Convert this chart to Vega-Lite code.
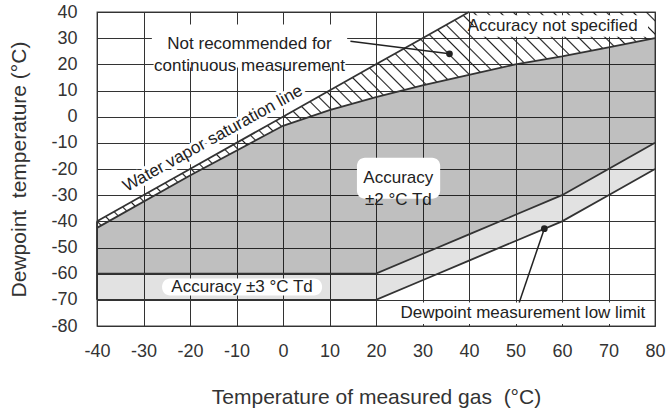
{
  "$schema": "https://vega.github.io/schema/vega-lite/v6.json",
  "autosize": {"type": "none"},
  "padding": {"left": 97, "top": 12, "right": 11, "bottom": 83},
  "width": 558,
  "height": 314,
  "config": {
    "font": "Liberation Sans",
    "view": {"stroke": "#444", "strokeWidth": 1.3},
    "axis": {"labelFlush": false, "labelOverlap": false}
  },
  "datasets": {
    "regions": [
      {"x": -40, "hatchTop": -40, "grayTop": -42.5, "grayBot": -60, "lightBot": -70},
      {"x": -20, "hatchTop": -20, "grayTop": -22.5, "grayBot": -60, "lightBot": -70},
      {"x": 0, "hatchTop": 0, "grayTop": -3.5, "grayBot": -60, "lightBot": -70},
      {"x": 10, "hatchTop": 10, "grayTop": 2.5, "grayBot": -60, "lightBot": -70},
      {"x": 20, "hatchTop": 20, "grayTop": 7.5, "grayBot": -60, "lightBot": -70},
      {"x": 30, "hatchTop": 30, "grayTop": 12, "grayBot": -52.5, "lightBot": -62.5},
      {"x": 40, "hatchTop": 40, "grayTop": 16, "grayBot": -45, "lightBot": -55},
      {"x": 50, "hatchTop": 40, "grayTop": 20, "grayBot": -37.5, "lightBot": -47.5},
      {"x": 60, "hatchTop": 40, "grayTop": 23, "grayBot": -30, "lightBot": -40},
      {"x": 70, "hatchTop": 40, "grayTop": 26.5, "grayBot": -20, "lightBot": -30},
      {"x": 80, "hatchTop": 40, "grayTop": 30, "grayBot": -10, "lightBot": -20}
    ],
    "edges": [{"x": -40, "y": -70, "y2": -40}],
    "roundBoxes": [
      {"x": -28.2, "x2": 13.8, "y": 35.2, "y2": 18.8},
      {"x": 15.9, "x2": 33.8, "y": -15.7, "y2": -31.4},
      {"x": -26, "x2": 8.4, "y": -61.8, "y2": -68.3}
    ],
    "squareBoxes": [
      {"x": 41, "x2": 78.5, "y": 38.8, "y2": 30.5},
      {"x": 23, "x2": 79.6, "y": -71, "y2": -79.2}
    ],
    "leaders": [
      {"x": 14.5, "y": 28.8, "x2": 35.8, "y2": 24.0},
      {"x": 50.8, "y": -71, "x2": 56.2, "y2": -42.8}
    ],
    "labels": [
      {"label": "Not recommended for\ncontinuous measurement", "x": -7.2, "y": 27.8},
      {"label": "Accuracy not specified", "x": 58, "y": 34.6},
      {"label": "Accuracy\n±2 °C Td", "x": 24.8, "y": -23.6},
      {"label": "Accuracy ±3 °C Td", "x": -8.8, "y": -65.1},
      {"label": "Dewpoint measurement low limit", "x": 51.6, "y": -75}
    ],
    "slanted": [
      {"label": "Water vapor saturation line", "x": -15.1, "y": -8.4}
    ]
  },
  "layer": [
    {
      "data": {"name": "regions"},
      "mark": {"type": "area", "orient": "vertical", "fill": "black", "fillOpacity": 0.25},
      "encoding": {
        "x": {
          "field": "x", "type": "quantitative",
          "scale": {"domain": [-40, 80], "nice": false, "zero": false},
          "axis": {
            "values": [-40, -30, -20, -10, 0, 10, 20, 30, 40, 50, 60, 70, 80],
            "tickCount": 20,
            "labelExpr": "'' + datum.value",
            "title": "Temperature of measured gas\u00a0\u00a0(°C)",
            "titleFontSize": 21, "titleFontWeight": "normal", "titleColor": "#333",
            "titleY": 77, "titleBaseline": "alphabetic",
            "labelFontSize": 18, "labelColor": "#333", "labelPadding": 16,
            "labelOverlap": false, "labelFlush": false,
            "ticks": false, "domain": false,
            "grid": true, "gridColor": "#333", "gridWidth": 1, "gridOpacity": 1
          }
        },
        "y": {
          "field": "grayTop", "type": "quantitative",
          "scale": {"domain": [-80, 40], "nice": false, "zero": false},
          "axis": {
            "values": [-80, -70, -60, -50, -40, -30, -20, -10, 0, 10, 20, 30, 40],
            "tickCount": 20,
            "labelExpr": "'' + datum.value",
            "title": "Dewpoint\u00a0\u00a0temperature (°C)",
            "titleFontSize": 21, "titleFontWeight": "normal", "titleColor": "#333",
            "titleX": -72, "titleBaseline": "alphabetic",
            "labelFontSize": 18, "labelColor": "#333", "labelPadding": 20,
            "labelOverlap": false, "labelFlush": false,
            "ticks": false, "domain": false,
            "grid": true, "gridColor": "#333", "gridWidth": 1, "gridOpacity": 1
          }
        },
        "y2": {"field": "grayBot"}
      }
    },
    {
      "data": {"name": "regions"},
      "mark": {"type": "area", "orient": "vertical", "fill": "black", "fillOpacity": 0.115},
      "encoding": {
        "x": {"field": "x", "type": "quantitative"},
        "y": {"field": "grayBot", "type": "quantitative"},
        "y2": {"field": "lightBot"}
      }
    },
    {
      "data": {"name": "regions"},
      "mark": {
        "type": "area", "orient": "vertical",
        "fill": {
          "gradient": "linear", "x1": 0, "y1": 1, "x2": 1.206, "y2": 0.533,
          "stops": [
            {"offset": 0.0066, "color": "rgba(30,30,30,0)"}, {"offset": 0.0086, "color": "#1e1e1e"}, {"offset": 0.0106, "color": "rgba(30,30,30,0)"},
            {"offset": 0.0238, "color": "rgba(30,30,30,0)"}, {"offset": 0.0258, "color": "#1e1e1e"}, {"offset": 0.0278, "color": "rgba(30,30,30,0)"},
            {"offset": 0.0410, "color": "rgba(30,30,30,0)"}, {"offset": 0.0430, "color": "#1e1e1e"}, {"offset": 0.0450, "color": "rgba(30,30,30,0)"},
            {"offset": 0.0582, "color": "rgba(30,30,30,0)"}, {"offset": 0.0602, "color": "#1e1e1e"}, {"offset": 0.0622, "color": "rgba(30,30,30,0)"},
            {"offset": 0.0754, "color": "rgba(30,30,30,0)"}, {"offset": 0.0774, "color": "#1e1e1e"}, {"offset": 0.0794, "color": "rgba(30,30,30,0)"},
            {"offset": 0.0926, "color": "rgba(30,30,30,0)"}, {"offset": 0.0946, "color": "#1e1e1e"}, {"offset": 0.0966, "color": "rgba(30,30,30,0)"},
            {"offset": 0.1098, "color": "rgba(30,30,30,0)"}, {"offset": 0.1118, "color": "#1e1e1e"}, {"offset": 0.1138, "color": "rgba(30,30,30,0)"},
            {"offset": 0.1270, "color": "rgba(30,30,30,0)"}, {"offset": 0.1290, "color": "#1e1e1e"}, {"offset": 0.1310, "color": "rgba(30,30,30,0)"},
            {"offset": 0.1442, "color": "rgba(30,30,30,0)"}, {"offset": 0.1462, "color": "#1e1e1e"}, {"offset": 0.1482, "color": "rgba(30,30,30,0)"},
            {"offset": 0.1614, "color": "rgba(30,30,30,0)"}, {"offset": 0.1634, "color": "#1e1e1e"}, {"offset": 0.1654, "color": "rgba(30,30,30,0)"},
            {"offset": 0.1786, "color": "rgba(30,30,30,0)"}, {"offset": 0.1806, "color": "#1e1e1e"}, {"offset": 0.1826, "color": "rgba(30,30,30,0)"},
            {"offset": 0.1958, "color": "rgba(30,30,30,0)"}, {"offset": 0.1978, "color": "#1e1e1e"}, {"offset": 0.1998, "color": "rgba(30,30,30,0)"},
            {"offset": 0.2130, "color": "rgba(30,30,30,0)"}, {"offset": 0.2150, "color": "#1e1e1e"}, {"offset": 0.2170, "color": "rgba(30,30,30,0)"},
            {"offset": 0.2302, "color": "rgba(30,30,30,0)"}, {"offset": 0.2322, "color": "#1e1e1e"}, {"offset": 0.2342, "color": "rgba(30,30,30,0)"},
            {"offset": 0.2474, "color": "rgba(30,30,30,0)"}, {"offset": 0.2494, "color": "#1e1e1e"}, {"offset": 0.2514, "color": "rgba(30,30,30,0)"},
            {"offset": 0.2646, "color": "rgba(30,30,30,0)"}, {"offset": 0.2666, "color": "#1e1e1e"}, {"offset": 0.2686, "color": "rgba(30,30,30,0)"},
            {"offset": 0.2818, "color": "rgba(30,30,30,0)"}, {"offset": 0.2838, "color": "#1e1e1e"}, {"offset": 0.2858, "color": "rgba(30,30,30,0)"},
            {"offset": 0.2990, "color": "rgba(30,30,30,0)"}, {"offset": 0.3010, "color": "#1e1e1e"}, {"offset": 0.3030, "color": "rgba(30,30,30,0)"},
            {"offset": 0.3162, "color": "rgba(30,30,30,0)"}, {"offset": 0.3182, "color": "#1e1e1e"}, {"offset": 0.3202, "color": "rgba(30,30,30,0)"},
            {"offset": 0.3334, "color": "rgba(30,30,30,0)"}, {"offset": 0.3354, "color": "#1e1e1e"}, {"offset": 0.3374, "color": "rgba(30,30,30,0)"},
            {"offset": 0.3506, "color": "rgba(30,30,30,0)"}, {"offset": 0.3526, "color": "#1e1e1e"}, {"offset": 0.3546, "color": "rgba(30,30,30,0)"},
            {"offset": 0.3678, "color": "rgba(30,30,30,0)"}, {"offset": 0.3698, "color": "#1e1e1e"}, {"offset": 0.3718, "color": "rgba(30,30,30,0)"},
            {"offset": 0.3850, "color": "rgba(30,30,30,0)"}, {"offset": 0.3870, "color": "#1e1e1e"}, {"offset": 0.3890, "color": "rgba(30,30,30,0)"},
            {"offset": 0.4022, "color": "rgba(30,30,30,0)"}, {"offset": 0.4042, "color": "#1e1e1e"}, {"offset": 0.4062, "color": "rgba(30,30,30,0)"},
            {"offset": 0.4194, "color": "rgba(30,30,30,0)"}, {"offset": 0.4214, "color": "#1e1e1e"}, {"offset": 0.4234, "color": "rgba(30,30,30,0)"},
            {"offset": 0.4366, "color": "rgba(30,30,30,0)"}, {"offset": 0.4386, "color": "#1e1e1e"}, {"offset": 0.4406, "color": "rgba(30,30,30,0)"},
            {"offset": 0.4538, "color": "rgba(30,30,30,0)"}, {"offset": 0.4558, "color": "#1e1e1e"}, {"offset": 0.4578, "color": "rgba(30,30,30,0)"},
            {"offset": 0.4710, "color": "rgba(30,30,30,0)"}, {"offset": 0.4730, "color": "#1e1e1e"}, {"offset": 0.4750, "color": "rgba(30,30,30,0)"},
            {"offset": 0.4882, "color": "rgba(30,30,30,0)"}, {"offset": 0.4902, "color": "#1e1e1e"}, {"offset": 0.4922, "color": "rgba(30,30,30,0)"},
            {"offset": 0.5054, "color": "rgba(30,30,30,0)"}, {"offset": 0.5074, "color": "#1e1e1e"}, {"offset": 0.5094, "color": "rgba(30,30,30,0)"},
            {"offset": 0.5226, "color": "rgba(30,30,30,0)"}, {"offset": 0.5246, "color": "#1e1e1e"}, {"offset": 0.5266, "color": "rgba(30,30,30,0)"},
            {"offset": 0.5398, "color": "rgba(30,30,30,0)"}, {"offset": 0.5418, "color": "#1e1e1e"}, {"offset": 0.5438, "color": "rgba(30,30,30,0)"},
            {"offset": 0.5570, "color": "rgba(30,30,30,0)"}, {"offset": 0.5590, "color": "#1e1e1e"}, {"offset": 0.5610, "color": "rgba(30,30,30,0)"},
            {"offset": 0.5742, "color": "rgba(30,30,30,0)"}, {"offset": 0.5762, "color": "#1e1e1e"}, {"offset": 0.5782, "color": "rgba(30,30,30,0)"},
            {"offset": 0.5914, "color": "rgba(30,30,30,0)"}, {"offset": 0.5934, "color": "#1e1e1e"}, {"offset": 0.5954, "color": "rgba(30,30,30,0)"},
            {"offset": 0.6086, "color": "rgba(30,30,30,0)"}, {"offset": 0.6106, "color": "#1e1e1e"}, {"offset": 0.6126, "color": "rgba(30,30,30,0)"},
            {"offset": 0.6258, "color": "rgba(30,30,30,0)"}, {"offset": 0.6278, "color": "#1e1e1e"}, {"offset": 0.6298, "color": "rgba(30,30,30,0)"},
            {"offset": 0.6430, "color": "rgba(30,30,30,0)"}, {"offset": 0.6450, "color": "#1e1e1e"}, {"offset": 0.6470, "color": "rgba(30,30,30,0)"},
            {"offset": 0.6602, "color": "rgba(30,30,30,0)"}, {"offset": 0.6622, "color": "#1e1e1e"}, {"offset": 0.6642, "color": "rgba(30,30,30,0)"},
            {"offset": 0.6774, "color": "rgba(30,30,30,0)"}, {"offset": 0.6794, "color": "#1e1e1e"}, {"offset": 0.6814, "color": "rgba(30,30,30,0)"},
            {"offset": 0.6946, "color": "rgba(30,30,30,0)"}, {"offset": 0.6966, "color": "#1e1e1e"}, {"offset": 0.6986, "color": "rgba(30,30,30,0)"},
            {"offset": 0.7118, "color": "rgba(30,30,30,0)"}, {"offset": 0.7138, "color": "#1e1e1e"}, {"offset": 0.7158, "color": "rgba(30,30,30,0)"},
            {"offset": 0.7290, "color": "rgba(30,30,30,0)"}, {"offset": 0.7310, "color": "#1e1e1e"}, {"offset": 0.7330, "color": "rgba(30,30,30,0)"},
            {"offset": 0.7462, "color": "rgba(30,30,30,0)"}, {"offset": 0.7482, "color": "#1e1e1e"}, {"offset": 0.7502, "color": "rgba(30,30,30,0)"},
            {"offset": 0.7634, "color": "rgba(30,30,30,0)"}, {"offset": 0.7654, "color": "#1e1e1e"}, {"offset": 0.7674, "color": "rgba(30,30,30,0)"},
            {"offset": 0.7806, "color": "rgba(30,30,30,0)"}, {"offset": 0.7826, "color": "#1e1e1e"}, {"offset": 0.7846, "color": "rgba(30,30,30,0)"},
            {"offset": 0.7978, "color": "rgba(30,30,30,0)"}, {"offset": 0.7998, "color": "#1e1e1e"}, {"offset": 0.8018, "color": "rgba(30,30,30,0)"},
            {"offset": 0.8150, "color": "rgba(30,30,30,0)"}, {"offset": 0.8170, "color": "#1e1e1e"}, {"offset": 0.8190, "color": "rgba(30,30,30,0)"},
            {"offset": 0.8322, "color": "rgba(30,30,30,0)"}, {"offset": 0.8342, "color": "#1e1e1e"}, {"offset": 0.8362, "color": "rgba(30,30,30,0)"},
            {"offset": 0.8494, "color": "rgba(30,30,30,0)"}, {"offset": 0.8514, "color": "#1e1e1e"}, {"offset": 0.8534, "color": "rgba(30,30,30,0)"},
            {"offset": 0.8666, "color": "rgba(30,30,30,0)"}, {"offset": 0.8686, "color": "#1e1e1e"}, {"offset": 0.8706, "color": "rgba(30,30,30,0)"},
            {"offset": 0.8838, "color": "rgba(30,30,30,0)"}, {"offset": 0.8858, "color": "#1e1e1e"}, {"offset": 0.8878, "color": "rgba(30,30,30,0)"},
            {"offset": 0.9010, "color": "rgba(30,30,30,0)"}, {"offset": 0.9030, "color": "#1e1e1e"}, {"offset": 0.9050, "color": "rgba(30,30,30,0)"},
            {"offset": 0.9182, "color": "rgba(30,30,30,0)"}, {"offset": 0.9202, "color": "#1e1e1e"}, {"offset": 0.9222, "color": "rgba(30,30,30,0)"},
            {"offset": 0.9354, "color": "rgba(30,30,30,0)"}, {"offset": 0.9374, "color": "#1e1e1e"}, {"offset": 0.9394, "color": "rgba(30,30,30,0)"},
            {"offset": 0.9526, "color": "rgba(30,30,30,0)"}, {"offset": 0.9546, "color": "#1e1e1e"}, {"offset": 0.9566, "color": "rgba(30,30,30,0)"},
            {"offset": 0.9698, "color": "rgba(30,30,30,0)"}, {"offset": 0.9718, "color": "#1e1e1e"}, {"offset": 0.9738, "color": "rgba(30,30,30,0)"},
            {"offset": 0.9870, "color": "rgba(30,30,30,0)"}, {"offset": 0.9890, "color": "#1e1e1e"}, {"offset": 0.9910, "color": "rgba(30,30,30,0)"}
          ]
        }
      },
      "encoding": {
        "x": {"field": "x", "type": "quantitative"},
        "y": {"field": "hatchTop", "type": "quantitative"},
        "y2": {"field": "grayTop"}
      }
    },
    {
      "data": {"name": "roundBoxes"},
      "mark": {"type": "rect", "fill": "white", "cornerRadius": 8},
      "encoding": {
        "x": {"field": "x", "type": "quantitative"},
        "x2": {"field": "x2"},
        "y": {"field": "y", "type": "quantitative"},
        "y2": {"field": "y2"}
      }
    },
    {
      "data": {"name": "squareBoxes"},
      "mark": {"type": "rect", "fill": "white"},
      "encoding": {
        "x": {"field": "x", "type": "quantitative"},
        "x2": {"field": "x2"},
        "y": {"field": "y", "type": "quantitative"},
        "y2": {"field": "y2"}
      }
    },
    {
      "data": {"name": "regions"},
      "transform": [{"filter": "datum.x <= 40"}],
      "mark": {"type": "line", "color": "#333", "strokeWidth": 1.8},
      "encoding": {
        "x": {"field": "x", "type": "quantitative"},
        "y": {"field": "hatchTop", "type": "quantitative"}
      }
    },
    {
      "data": {"name": "regions"},
      "mark": {"type": "line", "color": "#333", "strokeWidth": 1.8},
      "encoding": {
        "x": {"field": "x", "type": "quantitative"},
        "y": {"field": "grayTop", "type": "quantitative"}
      }
    },
    {
      "data": {"name": "regions"},
      "mark": {"type": "line", "color": "#333", "strokeWidth": 1.8},
      "encoding": {
        "x": {"field": "x", "type": "quantitative"},
        "y": {"field": "grayBot", "type": "quantitative"}
      }
    },
    {
      "data": {"name": "regions"},
      "mark": {"type": "line", "color": "#333", "strokeWidth": 1.8},
      "encoding": {
        "x": {"field": "x", "type": "quantitative"},
        "y": {"field": "lightBot", "type": "quantitative"}
      }
    },
    {
      "data": {"name": "edges"},
      "mark": {"type": "rule", "color": "#333", "strokeWidth": 1.8},
      "encoding": {
        "x": {"field": "x", "type": "quantitative"},
        "y": {"field": "y", "type": "quantitative"},
        "y2": {"field": "y2"}
      }
    },
    {
      "data": {"name": "leaders"},
      "mark": {"type": "rule", "color": "#222", "strokeWidth": 1.5},
      "encoding": {
        "x": {"field": "x", "type": "quantitative"},
        "y": {"field": "y", "type": "quantitative"},
        "x2": {"field": "x2"},
        "y2": {"field": "y2"}
      }
    },
    {
      "data": {"name": "leaders"},
      "mark": {"type": "point", "filled": true, "color": "#222", "size": 45, "opacity": 1},
      "encoding": {
        "x": {"field": "x2", "type": "quantitative"},
        "y": {"field": "y2", "type": "quantitative"}
      }
    },
    {
      "data": {"name": "labels"},
      "mark": {"type": "text", "fontSize": 17, "color": "#222", "align": "center", "baseline": "middle", "lineBreak": "\n", "lineHeight": 22},
      "encoding": {
        "x": {"field": "x", "type": "quantitative"},
        "y": {"field": "y", "type": "quantitative"},
        "text": {"field": "label"}
      }
    },
    {
      "data": {"name": "slanted"},
      "mark": {"type": "text", "fontSize": 17, "fill": "white", "stroke": "white", "strokeWidth": 6, "align": "center", "baseline": "middle", "angle": 331},
      "encoding": {
        "x": {"field": "x", "type": "quantitative"},
        "y": {"field": "y", "type": "quantitative"},
        "text": {"field": "label"}
      }
    },
    {
      "data": {"name": "slanted"},
      "mark": {"type": "text", "fontSize": 17, "color": "#222", "align": "center", "baseline": "middle", "angle": 331},
      "encoding": {
        "x": {"field": "x", "type": "quantitative"},
        "y": {"field": "y", "type": "quantitative"},
        "text": {"field": "label"}
      }
    }
  ]
}
